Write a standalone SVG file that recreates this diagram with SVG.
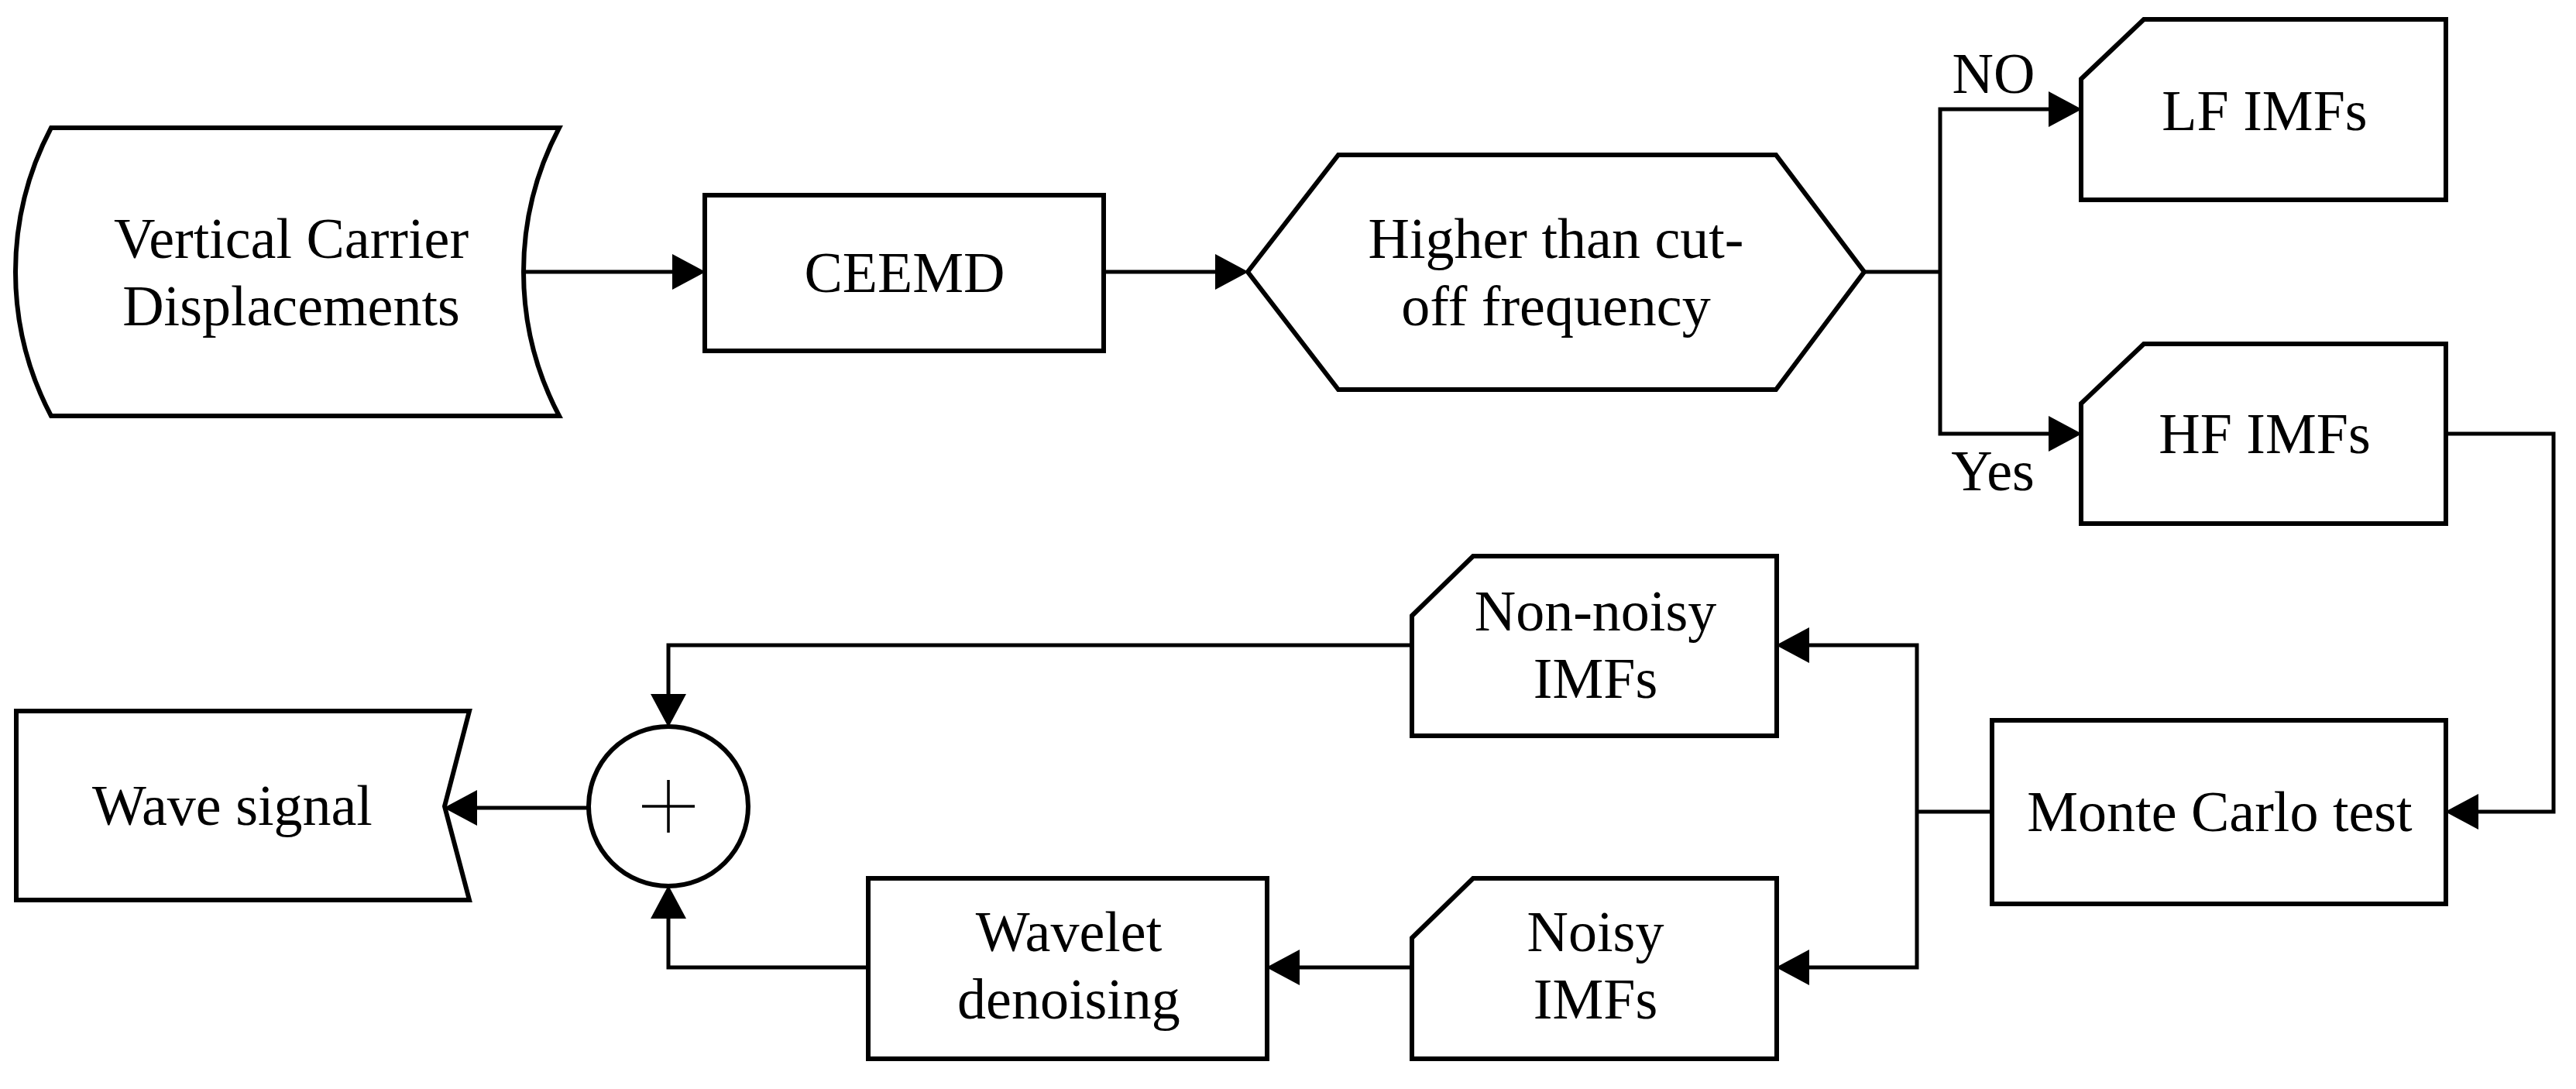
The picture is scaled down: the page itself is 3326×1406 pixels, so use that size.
<svg xmlns="http://www.w3.org/2000/svg" width="3326" height="1406" viewBox="0 0 3326 1406">
<style>
.n{fill:#fff;stroke:#000;stroke-width:6;stroke-linejoin:miter}
.c{fill:none;stroke:#000;stroke-width:5}
.t{font-family:"Liberation Serif","Times New Roman",serif;font-size:74px;fill:#000;text-anchor:middle}
</style>
<defs>
<marker id="ah" markerUnits="userSpaceOnUse" markerWidth="44" markerHeight="46" refX="32" refY="23" orient="auto" overflow="visible">
<path d="M0,0 L43,23 L0,46 Z" fill="#000"/>
</marker>
</defs>
<rect width="3326" height="1406" fill="#fff"/>
<g id="connectors">
<path class="c" d="M677,351 H900" marker-end="url(#ah)"/>
<path class="c" d="M1425,351 H1601" marker-end="url(#ah)"/>
<path class="c" d="M2407,351 H2505"/>
<path class="c" d="M2505,351 V141 H2677" marker-end="url(#ah)"/>
<path class="c" d="M2505,351 V560 H2677" marker-end="url(#ah)"/>
<path class="c" d="M3158,560 H3297 V1048 H3168" marker-end="url(#ah)"/>
<path class="c" d="M2572,1048 H2475"/>
<path class="c" d="M2475,1048 V833 H2304" marker-end="url(#ah)"/>
<path class="c" d="M2475,1048 V1249 H2304" marker-end="url(#ah)"/>
<path class="c" d="M1823,833 H863 V928" marker-end="url(#ah)"/>
<path class="c" d="M1823,1249 H1646" marker-end="url(#ah)"/>
<path class="c" d="M1121,1249 H863 V1154" marker-end="url(#ah)"/>
<path class="c" d="M760,1043 H584" marker-end="url(#ah)"/>
<text class="t" x="2574" y="120">NO</text>
<text class="t" x="2573" y="633">Yes</text>
</g>
<g id="vcd">
<path class="n" d="M66,165 L722,165 A399,399 0 0 0 722,537 L66,537 A399,399 0 0 1 66,165 Z"/>
<text class="t" x="376" y="333">Vertical Carrier</text>
<text class="t" x="376" y="420">Displacements</text>
</g>
<g id="ceemd">
<rect class="n" x="910" y="252" width="515" height="201"/>
<text class="t" x="1168" y="377">CEEMD</text>
</g>
<g id="decision">
<path class="n" d="M1611,351 L1728,200 L2293,200 L2407,351 L2293,503 L1728,503 Z"/>
<text class="t" x="2009" y="333">Higher than cut-</text>
<text class="t" x="2009" y="420">off frequency</text>
</g>
<g id="lf">
<path class="n" d="M2687,102 L2768,25 L3158,25 L3158,258 L2687,258 Z"/>
<text class="t" x="2924" y="168">LF IMFs</text>
</g>
<g id="hf">
<path class="n" d="M2687,521 L2768,444 L3158,444 L3158,676 L2687,676 Z"/>
<text class="t" x="2924" y="585">HF IMFs</text>
</g>
<g id="monte">
<rect class="n" x="2572" y="930" width="586" height="237"/>
<text class="t" x="2866" y="1073">Monte Carlo test</text>
</g>
<g id="nonnoisy">
<path class="n" d="M1823,795 L1902,718 L2294,718 L2294,950 L1823,950 Z"/>
<text class="t" x="2060" y="814">Non-noisy</text>
<text class="t" x="2060" y="901">IMFs</text>
</g>
<g id="noisy">
<path class="n" d="M1823,1211 L1902,1134 L2294,1134 L2294,1367 L1823,1367 Z"/>
<text class="t" x="2060" y="1228">Noisy</text>
<text class="t" x="2060" y="1315">IMFs</text>
</g>
<g id="wavelet">
<rect class="n" x="1121" y="1134" width="515" height="233"/>
<text class="t" x="1380" y="1228">Wavelet</text>
<text class="t" x="1380" y="1315">denoising</text>
</g>
<g id="sum">
<circle class="n" cx="863" cy="1041" r="103"/>
<path d="M829,1041 H897 M863,1007 V1075" stroke="#000" stroke-width="3.5" fill="none"/>
</g>
<g id="wave">
<path class="n" d="M21,918 L606,918 L574,1041 L606,1162 L21,1162 Z"/>
<text class="t" x="300" y="1065">Wave signal</text>
</g>
</svg>
